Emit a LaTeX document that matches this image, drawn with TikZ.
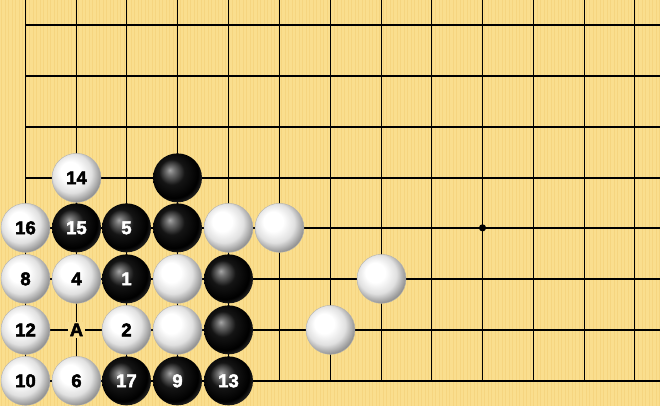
\documentclass[tikz,border=0pt]{standalone}
\usepackage{fontspec}
\setmainfont{Liberation Sans}
\newfontfamily\stonefont{Liberation Sans Bold}[FakeBold=2.5]
\definecolor{board}{RGB}{250,222,142}
\definecolor{stripe}{RGB}{242,204,112}
\pgfdeclareradialshading{wstone}{\pgfpoint{-8bp}{8bp}}{color(0bp)=(white); color(10bp)=(white); color(20bp)=(black!12); color(29bp)=(black!45); color(50bp)=(black!50)}
\pgfdeclareradialshading{bstone}{\pgfpoint{-8bp}{8bp}}{color(0bp)=(black!35); color(4bp)=(black!55); color(13bp)=(black!92); color(25bp)=(black); color(31bp)=(black!80); color(50bp)=(black!75)}
\tikzset{
  stonebase/.style={circle, minimum size=49pt, inner sep=0pt, font=\stonefont\fontsize{18.5}{18.5}\selectfont},
  wst/.style={stonebase, shading=wstone, draw=black!30, line width=0.4pt, text=black},
  bst/.style={stonebase, shading=bstone, text=white},
  gridline/.style={line width=1.45pt, black},
  marklabel/.style={fill=board, inner sep=1.5pt, font=\stonefont\fontsize{18.5}{18.5}\selectfont, text=black},
}
\newcommand\xlist{25.5,76.5,126.5,177.5,228.5,279.5,330.5,381.5,431.5,482.5,533.5,584.5,634.5}
\newcommand\ylist{24.5,75.5,126.5,177.5,227.5,278.5,329.5,380.5}
\begin{document}
\begin{tikzpicture}[x=1pt,y=-1pt]
\fill[board] (0,0) rectangle (660,406);
\foreach \s in {1.5,5,...,660} \draw[stripe, line width=0.7pt, opacity=0.45] (\s,0) -- (\s,406);
\useasboundingbox (0,0) rectangle (660,406);
\foreach \x [count=\i from 0] in \xlist
  \foreach \y [count=\j from 0] in \ylist
    \coordinate (g\i-\j) at (\x,\y);
% grid
\foreach \x in \xlist \draw[gridline] (\x,0) -- (\x,380.5);
\foreach \y in \ylist \draw[gridline] (25.5,\y) -- (660,\y);
\draw[line width=1.7pt] (25.5,380.5) -- (660,380.5);
% star point
\fill (g9-4) circle (3.6pt);
% row 3
\node[wst] (w14) at (g1-3) {14};
\node[bst] (b33) at (g3-3) {};
% row 4
\node[wst] (w16) at (g0-4) {16};
\node[bst] (b15) at (g1-4) {15};
\node[bst] (b5) at (g2-4) {5};
\node[bst] (b34) at (g3-4) {};
\node[wst] (w44) at (g4-4) {};
\node[wst] (w54) at (g5-4) {};
% row 5
\node[wst] (w8) at (g0-5) {8};
\node[wst] (w4) at (g1-5) {4};
\node[bst] (b1) at (g2-5) {1};
\node[wst] (w35) at (g3-5) {};
\node[bst] (b45) at (g4-5) {};
\node[wst] (w75) at (g7-5) {};
% row 6
\node[wst] (w12) at (g0-6) {12};
\node[marklabel] (A) at (g1-6) {A};
\node[wst] (w2) at (g2-6) {2};
\node[wst] (w36) at (g3-6) {};
\node[bst] (b46) at (g4-6) {};
\node[wst] (w66) at (g6-6) {};
% row 7
\node[wst] (w10) at (g0-7) {10};
\node[wst] (w6) at (g1-7) {6};
\node[bst] (b17) at (g2-7) {17};
\node[bst] (b9) at (g3-7) {9};
\node[bst] (b13) at (g4-7) {13};
\end{tikzpicture}
\end{document}
